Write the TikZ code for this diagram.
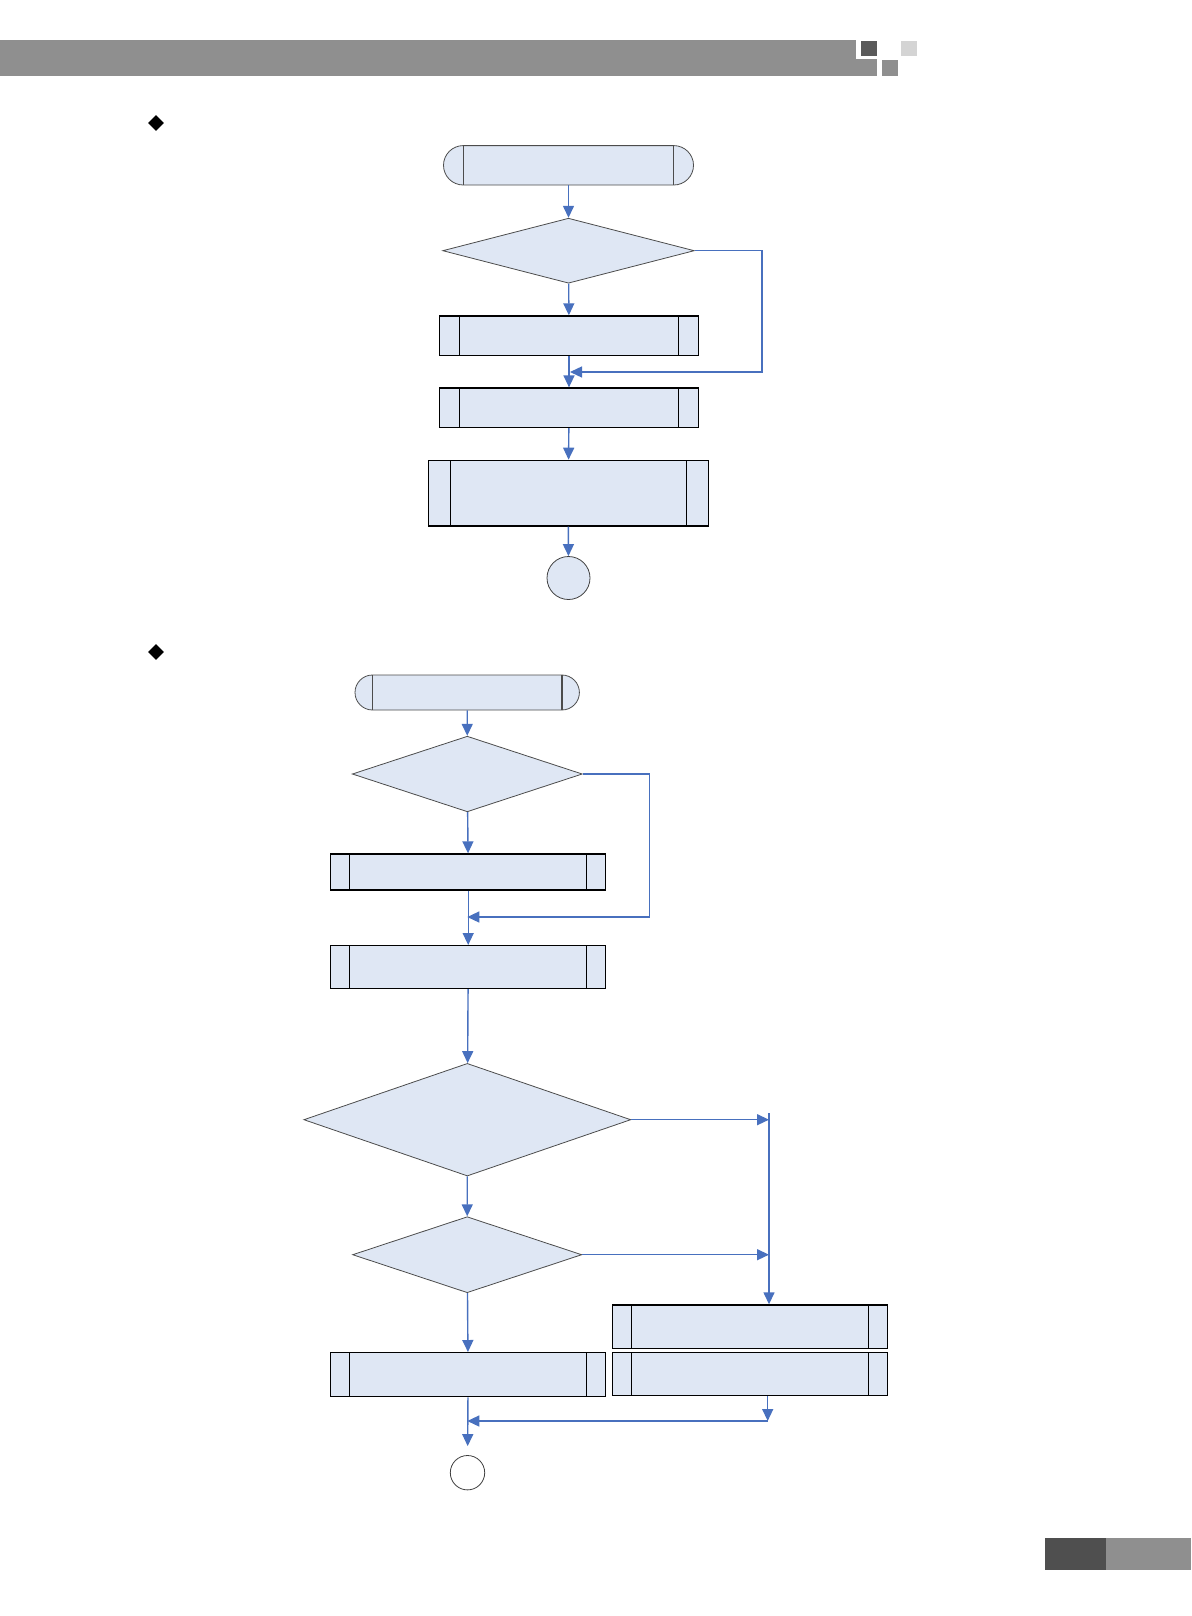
\documentclass[tikz,border=0pt]{standalone}
\usepackage{tikz}
\usetikzlibrary{shapes.geometric, shapes.misc, arrows.meta}
\definecolor{boxfill}{RGB}{223,231,244}
\definecolor{flowblue}{RGB}{72,112,190}
\definecolor{bargray}{RGB}{143,143,143}
\definecolor{bardark}{RGB}{90,90,90}
\definecolor{barlight}{RGB}{212,212,212}
\definecolor{footdark}{RGB}{79,79,79}
\tikzset{
    flow/.style={draw=flowblue, line width=0.7pt, -{Triangle[length=6pt, width=5.5pt]}},
    terminal/.style={rounded rectangle, draw=black!70, line width=0.4pt, fill=boxfill, inner sep=0pt,
        path picture={
            \draw[line width=0.7pt] ([xshift=#1]path picture bounding box.north west) -- ([xshift=#1]path picture bounding box.south west);
            \draw[line width=0.7pt] ([xshift=-#1]path picture bounding box.north east) -- ([xshift=-#1]path picture bounding box.south east);
        }},
    process/.style={rectangle, draw=black, line width=0.7pt, fill=boxfill, inner sep=0pt,
        path picture={
            \draw[line width=0.7pt] ([xshift=#1]path picture bounding box.north west) -- ([xshift=#1]path picture bounding box.south west);
            \draw[line width=0.7pt] ([xshift=-#1]path picture bounding box.north east) -- ([xshift=-#1]path picture bounding box.south east);
        }},
    process/.default=9.5pt,
    decision/.style={diamond, draw=black!70, line width=0.4pt, fill=boxfill, inner sep=0pt},
    stopper/.style={circle, draw=black!75, line width=0.4pt, inner sep=0pt},
    bullet/.style={diamond, fill=black, inner sep=0pt, minimum size=8pt}
}

\begin{document}
\begin{tikzpicture}[x=0.5pt, y=-0.5pt]
    \useasboundingbox (0,0) rectangle (1191,1616);

    % Page header and footer
    \fill[bargray] (0,40) rectangle (856,76);
    \fill[bargray] (856,59) rectangle (877,76);
    \fill[bardark] (861,41) rectangle (877,56);
    \fill[bargray] (882,60) rectangle (898,76);
    \fill[barlight] (901,41) rectangle (917,56);
    \fill[footdark] (1045,1538) rectangle (1106,1570);
    \fill[bargray] (1106,1538) rectangle (1191,1570);

    \node[bullet] (m1) at (156,123) {};
    \node[bullet] (m2) at (156,652) {};

    % First chart
    \node[terminal=10pt, minimum width=125pt, minimum height=19.7pt] (t1) at (568.5,165.3) {};
    \node[decision, minimum width=125.8pt, minimum height=32.5pt] (d1) at (568.5,250.7) {};
    \node[process=10pt, minimum width=129.7pt, minimum height=19.7pt] (b1) at (569,335.7) {};
    \node[process=10pt, minimum width=129.7pt, minimum height=19.7pt] (b2) at (569,407.8) {};
    \node[process=11pt, minimum width=140pt, minimum height=32.8pt] (b3) at (568.3,493.2) {};
    \node[stopper, fill=boxfill, minimum size=21.5pt] (e1) at (568.5,578) {};

    \foreach \a/\b in {t1/d1, d1/b1, b1/b2, b2/b3, b3/e1} {
        \draw[flow] (\a) -- (\b);
    }
    \coordinate (k1) at (762,372);
    \coordinate (j1) at (570,372);
    \draw[flow] (d1.east) -| (k1) -- (j1);

    % Second chart
    \node[terminal=8.75pt, minimum width=112.2pt, minimum height=17.5pt] (t2) at (467.2,692.5) {};
    \node[decision, minimum width=115pt, minimum height=37.8pt] (d2) at (467.3,774) {};
    \node[process, minimum width=137.5pt, minimum height=18pt] (b4) at (468.2,872) {};
    \node[process, minimum width=137.5pt, minimum height=21.3pt] (b5) at (468.2,967) {};
    \node[decision, minimum width=163.5pt, minimum height=56.3pt] (d3) at (467.3,1119.7) {};
    \node[decision, minimum width=114.6pt, minimum height=38pt] (d4) at (467.2,1254.7) {};
    \node[process, minimum width=137.6pt, minimum height=21.7pt] (b6) at (749.9,1326.7) {};
    \node[process, minimum width=137.4pt, minimum height=22pt] (b7) at (468.1,1374.7) {};
    \node[process, minimum width=137.6pt, minimum height=21.7pt] (b8) at (749.9,1374) {};
    \node[stopper, fill=white, minimum size=17.2pt] (e2) at (467.5,1472.7) {};

    \foreach \a/\b in {t2/d2, d2/b4, b4/b5, b5/d3, d3/d4, d4/b7} {
        \draw[flow] (\a) -- (\b);
    }
    \draw[flow, shorten >=4.5pt] (b7) -- (e2);

    \coordinate (k2) at (649.3,917);
    \coordinate (j2) at (467.3,917);
    \draw[flow] (d2.east) -| (k2) -- (j2);

    % Right-hand branch
    \coordinate (r1) at (769,1113);
    \draw[flow] (r1) -- (r1 |- b6.north);
    \draw[flow] (d3.east) -- (d3.east -| r1);
    \draw[flow] (d4.east) -- (d4.east -| r1);

    \coordinate (j3) at (767.7,1421);
    \coordinate (j4) at (467.3,1421);
    \draw[flow] (j3 |- b8.south) -- (j3);
    \draw[flow] (j3) -- (j4);
\end{tikzpicture}
\end{document}
